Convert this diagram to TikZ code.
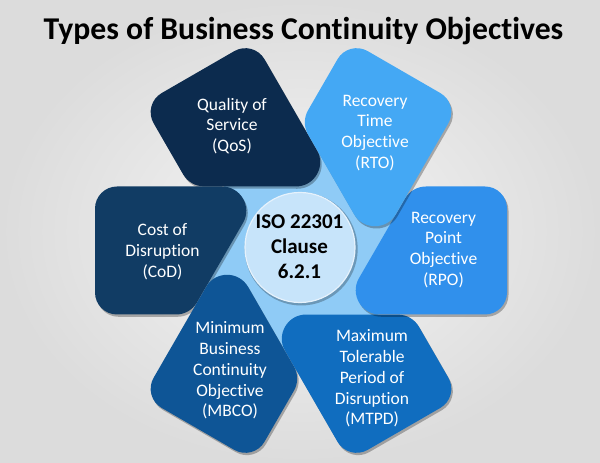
\documentclass[tikz,border=0pt]{standalone}
\usepackage{fontspec}
\setmainfont{Carlito}[Ligatures=NoCommon]
\definecolor{bgin}{HTML}{F5F5F5}
\definecolor{bgout}{HTML}{DCDCDC}
\definecolor{cqos}{HTML}{0C2B4E}
\definecolor{ccod}{HTML}{113C64}
\definecolor{cmbco}{HTML}{0E5596}
\definecolor{cmtpd}{HTML}{106DBF}
\definecolor{crpo}{HTML}{3090EC}
\definecolor{crto}{HTML}{44A8F4}
\definecolor{cinner}{HTML}{8FCBF6}
\definecolor{ccirc}{HTML}{C7E4FA}
\definecolor{ccircline}{HTML}{E6F2FC}
\newcommand{\petalshape}[2]{%
  \begin{scope}[shift={(302.5,210.2)},rotate=#1]
    \fill[black,opacity=.28] (125,64) -- (184,64) .. controls (196.1,64) and (206,54.1) .. (206,42) -- (206,-42) .. controls (206,-54.1) and (196.1,-64) .. (184,-64) -- (79,-64) .. controls (60.35,-64) and (48.67,-43.78) .. (58,-27.63) -- (104,51.88) .. controls (108.33,59.38) and (116.33,64) .. (125,64) -- cycle;
  \end{scope}
  \begin{scope}[shift={(301,212.5)},rotate=#1]
    \fill[#2] (125,64) -- (184,64) .. controls (196.1,64) and (206,54.1) .. (206,42) -- (206,-42) .. controls (206,-54.1) and (196.1,-64) .. (184,-64) -- (79,-64) .. controls (60.35,-64) and (48.67,-43.78) .. (58,-27.63) -- (104,51.88) .. controls (108.33,59.38) and (116.33,64) .. (125,64) -- cycle;
  \end{scope}}
\tikzset{
  ptext/.style={text=white, align=center, inner sep=0pt, font=\fontsize{17.5}{20.8}\selectfont},
  ctext/.style={text=black, align=center, inner sep=0pt, font=\bfseries\fontsize{21}{25.3}\selectfont},
  ttext/.style={text=black, inner sep=0pt, anchor=base, font=\bfseries\fontsize{31.7}{38}\selectfont}
}
\begin{document}
\begin{tikzpicture}[x=1pt,y=1pt]
\useasboundingbox (0,0) rectangle (600,463);
\shade[inner color=bgin, outer color=bgout] (0,0) rectangle (600,463);
\node[ttext] (title) at (303.5,423) {Types of Business Continuity Objectives};
\fill[cinner] (301,212.5) circle (100);
\petalshape{120}{cqos}
\petalshape{180}{ccod}
\petalshape{240}{cmbco}
\petalshape{300}{cmtpd}
\petalshape{0}{crpo}
\petalshape{60}{crto}
\fill[black,opacity=.25] (301.2,214) circle (56.5);
\fill[ccirc, draw=ccircline, line width=1.2pt] (300,215.5) circle (55);
\node[ptext] (qos) at (232,337) {Quality of\\Service\\(QoS)};
\node[ptext] (rto) at (375,330) {Recovery\\Time\\Objective\\(RTO)};
\node[ptext] (rpo) at (443.5,213) {Recovery\\Point\\Objective\\(RPO)};
\node[ptext] (cod) at (162.5,211.5) {Cost of\\Disruption\\(CoD)};
\node[ptext] (mbco) at (230,92.5) {Minimum\\Business\\Continuity\\Objective\\(MBCO)};
\node[ptext] (mtpd) at (372,84.5) {Maximum\\Tolerable\\Period of\\Disruption\\(MTPD)};
\node[ctext] (iso) at (299.5,216.5) {ISO 22301\\Clause\\6.2.1};
\end{tikzpicture}
\end{document}
